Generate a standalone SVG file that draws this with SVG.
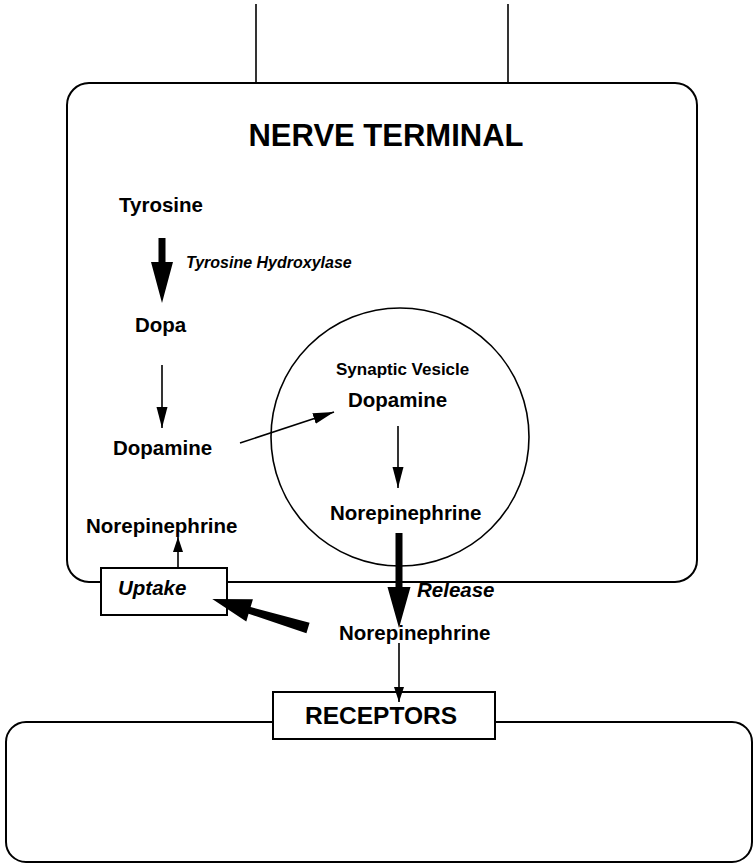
<svg xmlns="http://www.w3.org/2000/svg" width="754" height="865" viewBox="0 0 754 865">
<style>
  .box { fill: none; stroke: #000; stroke-width: 2; }
  .wbox { fill: #fff; stroke: #000; stroke-width: 2; }
  .ln { stroke: #000; stroke-width: 1.6; fill: none; }
  .thick { fill: #000; stroke: none; }
  text { font-family: "Liberation Sans", Arial, Helvetica, sans-serif; font-weight: bold; fill: #000; }
  .lbl { font-size: 20.5px; }
  .it { font-style: italic; }
</style>
<defs>
  <marker id="ah" markerUnits="userSpaceOnUse" markerWidth="21" markerHeight="12" refX="21" refY="6" orient="auto">
    <path d="M0,0.5 L21,6 L0,11.5 z" fill="#000"/>
  </marker>
  <marker id="ahs" markerUnits="userSpaceOnUse" markerWidth="15" markerHeight="11" refX="15" refY="5.5" orient="auto">
    <path d="M0,0.5 L15,5.5 L0,10.5 z" fill="#000"/>
  </marker>
</defs>

<g id="axon">
  <line class="ln" x1="256" y1="4" x2="256" y2="83"/>
  <line class="ln" x1="508" y1="4" x2="508" y2="83"/>
</g>

<g id="nerve-terminal">
  <rect class="box" x="67" y="83" width="630" height="499" rx="22" ry="22"/>
  <text x="386" y="146" font-size="31" text-anchor="middle">NERVE TERMINAL</text>
</g>

<g id="postsynaptic-cell">
  <rect class="box" x="6" y="722" width="746" height="140" rx="20" ry="20"/>
</g>

<g id="synaptic-vesicle">
  <circle class="ln" cx="400" cy="437" r="129"/>
  <text x="336" y="375" font-size="17">Synaptic Vesicle</text>
</g>

<g id="tyrosine"><text class="lbl" x="119" y="212">Tyrosine</text></g>
<g id="tyrosine-hydroxylase"><text class="it" x="186" y="268" font-size="16">Tyrosine Hydroxylase</text></g>
<g id="dopa"><text class="lbl" x="135" y="332">Dopa</text></g>
<g id="dopamine-cyto"><text class="lbl" x="113" y="455">Dopamine</text></g>
<g id="dopamine-vesicle"><text class="lbl" x="348" y="407">Dopamine</text></g>
<g id="norepinephrine-vesicle"><text class="lbl" x="330" y="520">Norepinephrine</text></g>
<g id="norepinephrine-cyto"><text class="lbl" x="86" y="533">Norepinephrine</text></g>
<g id="norepinephrine-cleft"><text class="lbl" x="339" y="640">Norepinephrine</text></g>
<g id="release-label"><text class="lbl it" x="417" y="597">Release</text></g>

<g id="uptake">
  <rect class="wbox" x="101" y="568" width="126" height="47"/>
  <text class="lbl it" x="118" y="595">Uptake</text>
</g>

<g id="receptors">
  <rect class="wbox" x="273" y="692" width="222" height="47"/>
  <text x="381" y="724" font-size="24.5" text-anchor="middle">RECEPTORS</text>
</g>

<g id="connectors">
  <polygon class="thick" points="158.5,238 165.5,238 165.5,262 173,262 162,303 151,262 158.5,262"/>
  <line class="ln" x1="162" y1="365" x2="162" y2="428" marker-end="url(#ah)"/>
  <line class="ln" x1="240" y1="443" x2="334" y2="412" marker-end="url(#ah)"/>
  <line class="ln" x1="398" y1="426" x2="398" y2="488" marker-end="url(#ah)"/>
  <line class="ln" x1="178" y1="568" x2="178" y2="537" marker-end="url(#ahs)"/>
  <polygon class="thick" transform="translate(308,628) rotate(196.8)" points="0,-5.5 61,-3.5 61,-11.5 100,0 61,11.5 61,3.5 0,5.5"/>
  <polygon class="thick" points="395.5,533 402.5,533 402.5,587 410.5,587 399,628 387.5,587 395.5,587"/>
  <line class="ln" x1="399" y1="643" x2="399" y2="702" marker-end="url(#ahs)"/>
</g>
</svg>
